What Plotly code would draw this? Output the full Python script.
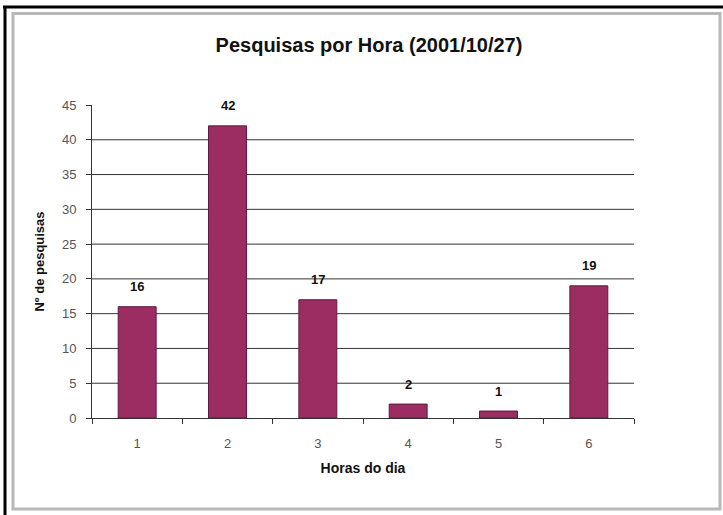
import plotly.graph_objects as go

# Searches per hour of day, 2001-10-27
horas = ["1", "2", "3", "4", "5", "6"]
pesquisas = [16, 42, 17, 2, 1, 19]
y_ticks = [0, 5, 10, 15, 20, 25, 30, 35, 40, 45]

W, H = 723, 515
PL, PR, PT, PB = 92, 634, 105, 418  # plot area in page pixels


def px_x(px):
    return (px - PL) / (PR - PL)


def px_y(py):
    return (PB - py) / (PB - PT)


BAR = "#9b2d62"
EDGE = "#5e1a3c"
FONT = "Liberation Sans, Arial, sans-serif"

fig = go.Figure(
    go.Bar(
        x=horas,
        y=pesquisas,
        marker=dict(color=BAR, line=dict(color=EDGE, width=1)),
        width=0.42,
        hoverinfo="x+y",
    )
)

# value labels above the bars (category index positions)
for i, v in enumerate(pesquisas):
    fig.add_annotation(
        x=i, y=v, text=f"<b>{v}</b>", showarrow=False, yshift=20,
        font=dict(family=FONT, size=13, color="#111111"),
    )

# gridlines at the inner ticks
for t in y_ticks[1:-1]:
    fig.add_shape(type="line", xref="paper", yref="y", x0=0, x1=1, y0=t, y1=t,
                  line=dict(color="#333333", width=1), layer="below")

# outer black frame (top and left) and grey chart border
fig.add_shape(type="line", xref="paper", yref="paper",
              x0=px_x(3), x1=px_x(W), y0=px_y(7), y1=px_y(7),
              line=dict(color="black", width=3))
fig.add_shape(type="line", xref="paper", yref="paper",
              x0=px_x(5), x1=px_x(5), y0=px_y(6), y1=px_y(H),
              line=dict(color="black", width=3))
fig.add_shape(type="rect", xref="paper", yref="paper",
              x0=px_x(13), x1=px_x(720), y0=px_y(13.5), y1=px_y(509),
              line=dict(color="#b8b8b8", width=3))

fig.update_layout(
    width=W, height=H,
    margin=dict(l=PL, r=W - PR, t=PT, b=H - PB),
    paper_bgcolor="white", plot_bgcolor="white",
    showlegend=False,
    title=dict(
        text="<b>Pesquisas por Hora (2001/10/27)</b>",
        x=px_x(369), xref="paper", xanchor="center",
        y=1 - 45 / H, yanchor="middle",
        font=dict(family=FONT, size=20, color="#111111"),
    ),
    font=dict(family=FONT),
)

fig.update_xaxes(
    type="category",
    range=[-0.5, len(horas) - 0.5],
    showline=True, linecolor="#333333", linewidth=1,
    ticks="outside", ticklen=5, tickcolor="#333333",
    tickson="boundaries",
    ticklabelstandoff=13,
    tickfont=dict(family=FONT, size=13, color="#555555"),
    showgrid=False,
    title=dict(text="<b>Horas do dia</b>", standoff=13,
               font=dict(family=FONT, size=14, color="#111111")),
)
fig.update_yaxes(
    range=[0, 45],
    tickvals=y_ticks,
    showline=True, linecolor="#333333", linewidth=1,
    ticks="outside", ticklen=5, tickcolor="#333333",
    ticklabelstandoff=7,
    tickfont=dict(family=FONT, size=13, color="#555555"),
    showgrid=False, zeroline=False,
    title=dict(text="<b>Nº de pesquisas</b>", standoff=14,
               font=dict(family=FONT, size=13, color="#111111")),
)

fig.write_html("out.html")
